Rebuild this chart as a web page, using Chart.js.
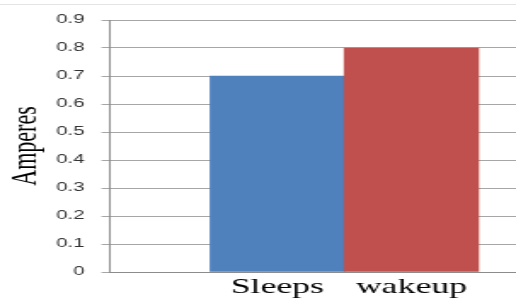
<!DOCTYPE HTML>
<html>
<head>
    <meta charset="utf-8">
    <title>amperes</title>
    <script src="https://cdn.jsdelivr.net/npm/chart.js"></script>
    <style>
        body { margin: 0; background: #fff; overflow: hidden; }
        #topline { position: absolute; left: 0; top: 4px; width: 516px; height: 1px; background: #e4e4e4; }
        /* the picture is stretched sideways, so draw narrow and scale */
        #wrap { position: absolute; left: 0; top: 0; width: 303px; height: 303px;
                transform: scaleX(1.703); transform-origin: 0 0; }
    </style>
</head>
<body>
    <div id="topline"></div>
    <div id="wrap"><canvas id="chart" width="303" height="303"></canvas></div>
    <script>
        const categories = ["Sleeps", "wakeup"];
        const amperes = [0.7, 0.8];
        const barColors = ["#4F81BD", "#C0504D"];
        const yMin = 0, yMax = 0.9, yStep = 0.1;

        new Chart(document.getElementById("chart").getContext('2d'), {
          type: 'bar',
          data: {
            datasets: [{
              data: amperes.map((v, i) => ({x: i + 1, y: v})),
              backgroundColor: barColors,
              barPercentage: 1,
              categoryPercentage: 1,
            }]
          },
          options: {
            responsive: false,
            animation: false,
            layout: { padding: { top: 20, left: 0, right: 0, bottom: 0 } },
            plugins: { legend: { display: false }, tooltip: { enabled: false } },
            scales: {
              x: {
                type: 'linear',
                bounds: 'data',
                offset: false,
                min: -0.247,
                max: 2.78,
                grid: { display: false, offset: false, drawTicks: false },
                border: { color: '#8c8c8c' },
                afterBuildTicks: (s) => { s.ticks = categories.map((c, i) => ({value: i + 1})); },
                afterFit: (s) => { s.height = 31; },
                ticks: {
                  callback: (v) => categories[v - 1],
                  font: { family: 'Liberation Serif', size: 21 },
                  color: '#000',
                  padding: 3,
                  maxRotation: 0,
                }
              },
              y: {
                min: yMin,
                max: yMax,
                afterFit: (s) => { s.width = 64.6; },
                grid: { color: '#a6a6a6', tickLength: 5 },
                border: { color: '#8c8c8c' },
                ticks: {
                  stepSize: yStep,
                  font: { family: 'Liberation Sans', size: 12 },
                  color: '#333',
                  padding: 10,
                },
                title: {
                  display: true,
                  text: 'Amperes',
                  font: { family: 'Liberation Serif', size: 22 },
                  color: '#000',
                  padding: { top: 2, bottom: 0 },
                }
              }
            }
          }
        });
    </script>
</body>
</html>
